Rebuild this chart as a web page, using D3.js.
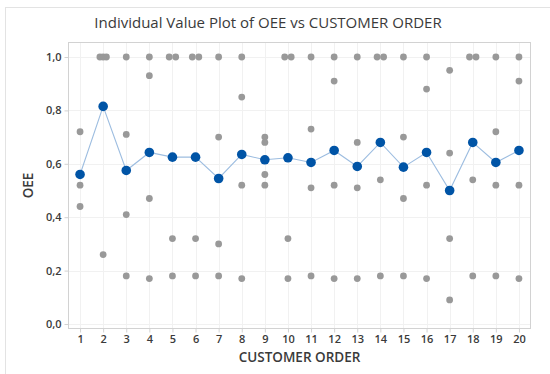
<!DOCTYPE html>
<html>
<head>
<meta charset="utf-8">
<script src="https://cdn.jsdelivr.net/npm/d3@7"></script>
<style>
  html, body { margin: 0; padding: 0; background: #fff; }
  svg { display: block; font-family: "Open Sans", "Noto Sans", sans-serif; }
</style>
</head>
<body>
<svg id="chart" width="550" height="374"></svg>
<script>
// Customer orders on the x axis
const orders = [1, 2, 3, 4, 5, 6, 7, 8, 9, 10, 11, 12, 13, 14, 15, 16, 17, 18, 19, 20];

// Individual OEE observations for each customer order
const oeeValues = [
  [0.72, 0.52, 0.44],
  [1.00, 1.00, 1.00, 0.26],
  [1.00, 0.71, 0.41, 0.18],
  [1.00, 0.93, 0.47, 0.17],
  [1.00, 1.00, 0.32, 0.18],
  [1.00, 1.00, 0.32, 0.18],
  [1.00, 0.70, 0.30, 0.18],
  [1.00, 0.85, 0.52, 0.17],
  [0.70, 0.68, 0.56, 0.52],
  [1.00, 1.00, 0.32, 0.17],
  [1.00, 0.73, 0.51, 0.18],
  [1.00, 0.91, 0.52, 0.17],
  [1.00, 0.68, 0.51, 0.17],
  [1.00, 1.00, 0.54, 0.18],
  [1.00, 0.70, 0.47, 0.18],
  [1.00, 0.88, 0.52, 0.17],
  [0.95, 0.64, 0.32, 0.09],
  [1.00, 1.00, 0.54, 0.18],
  [1.00, 0.72, 0.52, 0.18],
  [1.00, 0.91, 0.52, 0.17]
];

const yTicks = [0.0, 0.2, 0.4, 0.6, 0.8, 1.0];

const titleText = "Individual Value Plot of OEE vs CUSTOMER ORDER";
const xLabel = "CUSTOMER ORDER";
const yLabel = "OEE";

const svg = d3.select("#chart");
const W = 550, H = 374;
const plot = { left: 68.5, right: 530.5, top: 42.5, bottom: 328.5 };

const x = d3.scaleLinear().domain([0.5, 20.5]).range([plot.left, plot.right]);
const y = d3.scaleLinear().domain([0, 1]).range([324, 57]);

const textColor = "#3a3a3a";
const gridColor = "#f1f1f1";
const frameColor = "#d2d2d2";

// Outer panel border
svg.append("rect")
  .attr("x", 5.5).attr("y", 7.5)
  .attr("width", 600).attr("height", 400)
  .attr("fill", "#fff")
  .attr("stroke", "#e3e3e3");

// Title
svg.append("text")
  .attr("x", 268).attr("y", 28)
  .attr("text-anchor", "middle")
  .attr("font-size", 15)
  .attr("fill", textColor)
  .text(titleText);

// Gridlines
const grid = svg.append("g");
grid.selectAll("line.v").data(orders).join("line")
  .attr("class", "v")
  .attr("x1", d => Math.round(x(d)) + 0.5).attr("x2", d => Math.round(x(d)) + 0.5)
  .attr("y1", plot.top).attr("y2", plot.bottom)
  .attr("stroke", gridColor);
grid.selectAll("line.h").data(yTicks).join("line")
  .attr("class", "h")
  .attr("x1", plot.left).attr("x2", plot.right)
  .attr("y1", d => Math.round(y(d)) + 0.5).attr("y2", d => Math.round(y(d)) + 0.5)
  .attr("stroke", gridColor);

// Plot frame
svg.append("rect")
  .attr("x", plot.left).attr("y", plot.top)
  .attr("width", plot.right - plot.left).attr("height", plot.bottom - plot.top)
  .attr("fill", "none")
  .attr("stroke", frameColor);

// Axes
const fmt = d => d3.format(".1f")(d).replace(".", ",");
const yAxis = svg.append("g")
  .attr("transform", `translate(${plot.left},0)`)
  .call(d3.axisLeft(y).tickValues(yTicks).tickFormat(fmt).tickSize(4).tickPadding(3));
const xAxis = svg.append("g")
  .attr("transform", `translate(0,${plot.bottom})`)
  .call(d3.axisBottom(x).tickValues(orders).tickFormat(d3.format("d")).tickSize(4).tickPadding(3));
[yAxis, xAxis].forEach(ax => {
  ax.select(".domain").remove();
  ax.selectAll(".tick line").attr("stroke", frameColor);
  ax.selectAll(".tick text")
    .attr("fill", textColor)
    .attr("font-size", 11)
    .attr("font-weight", 600)
    .attr("font-family", "\"Open Sans\", sans-serif");
});

// Axis titles
svg.append("text")
  .attr("x", (plot.left + plot.right) / 2).attr("y", 362)
  .attr("text-anchor", "middle")
  .attr("font-size", 13.5)
  .attr("font-weight", 600)
  .attr("fill", textColor)
  .text(xLabel);
svg.append("text")
  .attr("transform", `translate(33,${(plot.top + plot.bottom) / 2}) rotate(-90)`)
  .attr("text-anchor", "middle")
  .attr("font-size", 13.5)
  .attr("font-weight", 600)
  .attr("fill", textColor)
  .text(yLabel);

// Individual points; tied values within an order are spread sideways
const points = [];
orders.forEach((o, i) => {
  const groups = d3.group(oeeValues[i], v => v);
  groups.forEach((vals, v) => {
    const n = vals.length;
    vals.forEach((_, k) => {
      const off = n > 1 ? -3.25 + 6.5 * k / (n - 1) : 0;
      points.push({ order: o, value: v, dx: off });
    });
  });
});

svg.append("g").selectAll("circle").data(points).join("circle")
  .attr("cx", d => x(d.order) + d.dx)
  .attr("cy", d => y(d.value))
  .attr("r", 3.4)
  .attr("fill", "#999999");

// Mean connect line and mean symbols
const means = orders.map((o, i) => ({ order: o, mean: d3.mean(oeeValues[i]) }));
svg.append("path")
  .datum(means)
  .attr("fill", "none")
  .attr("stroke", "#9dbde0")
  .attr("stroke-width", 1.1)
  .attr("d", d3.line().x(d => x(d.order)).y(d => y(d.mean)));
svg.append("g").selectAll("circle").data(means).join("circle")
  .attr("cx", d => x(d.order))
  .attr("cy", d => y(d.mean))
  .attr("r", 4.8)
  .attr("fill", "#0054a6");
</script>
</body>
</html>
